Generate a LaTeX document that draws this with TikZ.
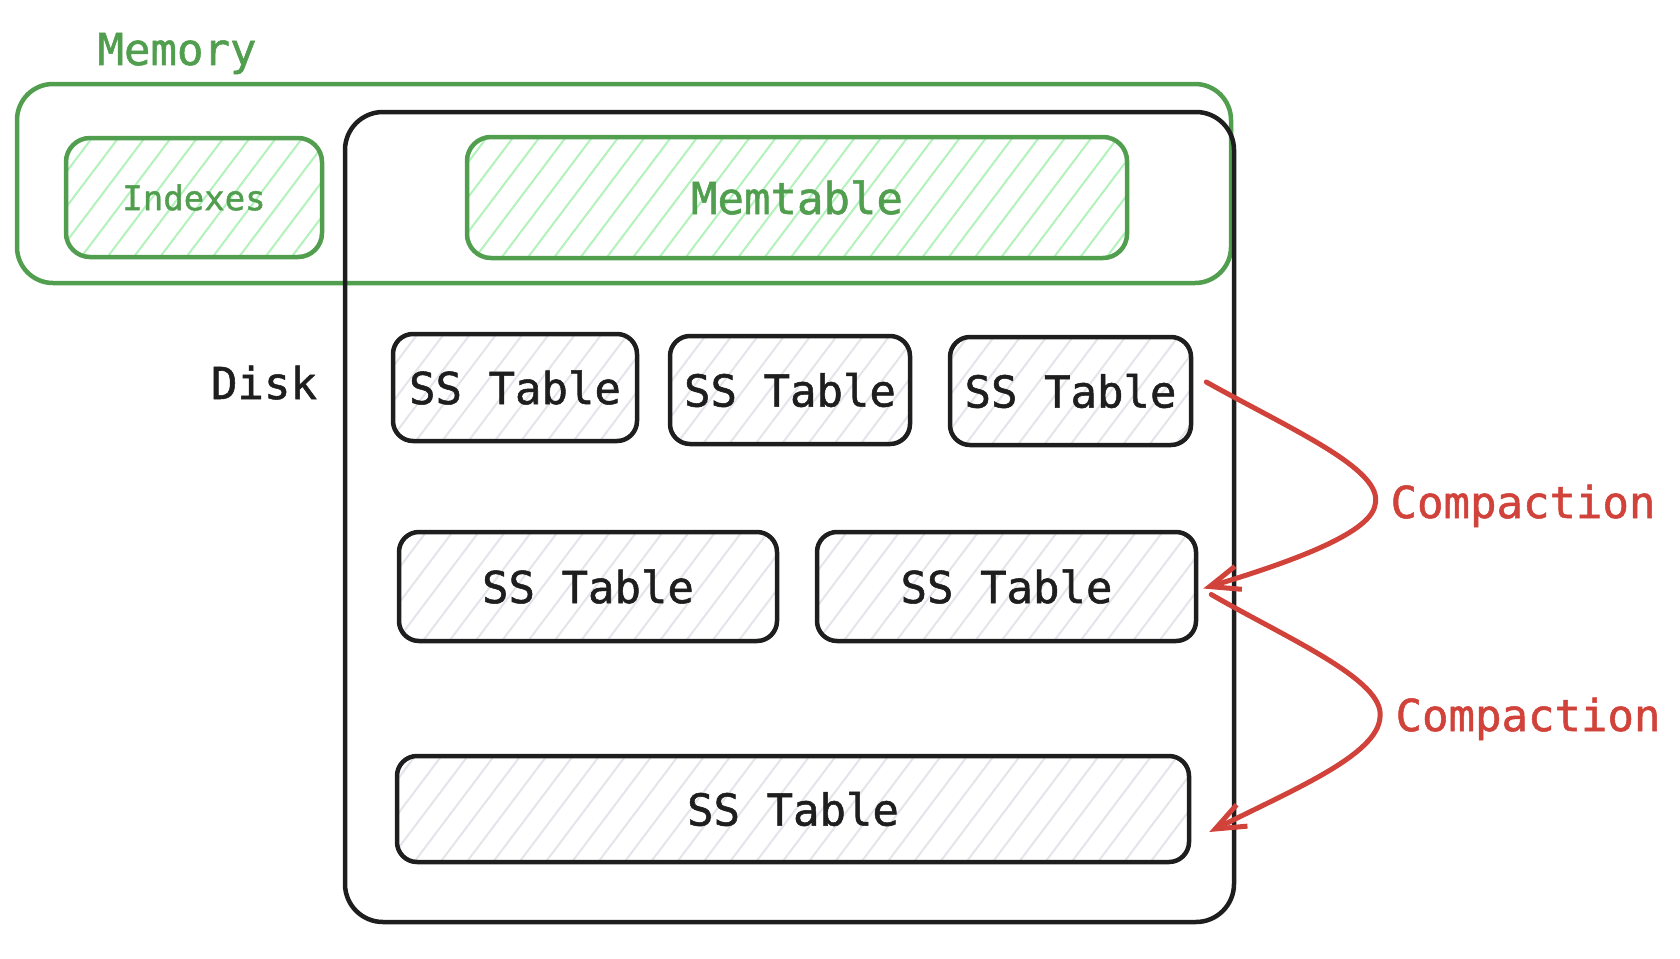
\documentclass[tikz,border=0pt]{standalone}
\usepackage{fontspec}
\newfontfamily\diagmono[FakeBold=1.2]{DejaVu Sans Mono}
\usetikzlibrary{arrows.meta,patterns.meta,calc}
\definecolor{memgreen}{RGB}{80,158,78}
\definecolor{hatchgreen}{RGB}{178,242,187}
\definecolor{diskblack}{RGB}{30,30,30}
\definecolor{hatchgray}{RGB}{226,229,233}
\definecolor{compred}{RGB}{208,66,58}
\newcommand{\bigmono}{\diagmono\fontsize{44}{50}\selectfont}
\newcommand{\smallmono}{\diagmono\fontsize{34}{40}\selectfont}
\tikzset{every picture/.style={line width=4.5pt}}
\tikzset{
  greenbox/.style={draw=memgreen, rounded corners=24pt, inner sep=0pt,
    pattern={Lines[angle=53,distance=21pt,line width=2pt]}, pattern color=hatchgreen,
    text=memgreen, font=\bigmono},
  sstable/.style={draw=diskblack, rounded corners=20pt, inner sep=0pt,
    pattern={Lines[angle=53,distance=21pt,line width=2pt]}, pattern color=hatchgray,
    text=diskblack, font=\bigmono},
  compaction/.style={draw=compred, line width=5pt, line cap=round,
    -{Straight Barb[length=30pt,width=24pt]}},
}

\begin{document}
\begin{tikzpicture}[x=1pt,y=1pt,yscale=-1]
\useasboundingbox (0,0) rectangle (1680,958);

%Shape: Rounded Rect [memory]
\node (memory) [draw=memgreen, rounded corners=36pt, minimum width=1214pt, minimum height=199pt] at (624,183.5) {};
% Text Node
\node (memlabel) [anchor=base, inner sep=0pt, text=memgreen, font=\bigmono] at (177,65) {Memory};
%Shape: Rounded Rect [indexes]
\node (indexes) [greenbox, font=\smallmono, minimum width=256pt, minimum height=119pt] at (194,197.5) {Indexes};

%Shape: Rounded Rect [disk]
\node (disk) [draw=diskblack, rounded corners=38pt, minimum width=889pt, minimum height=810pt] at (789.5,517) {};
% Text Node
\node (disklabel) [anchor=base, inner sep=0pt, text=diskblack, font=\bigmono] at (264,399) {Disk};
%Shape: Rounded Rect [memtable]
\node (memtable) [greenbox, minimum width=660pt, minimum height=121pt] at (797,197.5) {Memtable};

%Shape: SS tables, first level
\node (ss11) [sstable, minimum width=244pt, minimum height=107pt] at (515,387.5) {SS Table};
\node (ss12) [sstable, minimum width=240pt, minimum height=108pt] at (790,390) {SS Table};
\node (ss13) [sstable, minimum width=241pt, minimum height=108pt] at (1070.5,391) {SS Table};
%Shape: SS tables, second level
\node (ss21) [sstable, minimum width=378pt, minimum height=109pt] at (588,586.5) {SS Table};
\node (ss22) [sstable, minimum width=379pt, minimum height=109pt] at (1006.5,586.5) {SS Table};
%Shape: SS table, third level
\node (ss3) [sstable, minimum width=792pt, minimum height=106pt] at (793,809) {SS Table};

%Curved Lines [compaction 1]
\coordinate (bend1) at (1375,505);
\draw [compaction] ($(ss13.east)+(13,-9)$) .. controls +(86,48) and +(10,-35) .. (bend1)
  .. controls +(-5,30) and +(79,-24) .. ($(ss22.east)+(5,2)$);
% Text Node
\node (comp1) [anchor=base, inner sep=0pt, text=compred, font=\bigmono] at (1523,518) {Compaction};

%Curved Lines [compaction 2]
\coordinate (bend2) at (1380,717);
\draw [compaction] ($(ss22.east)+(13,8)$) .. controls +(76,44) and +(5,-37) .. (bend2)
  .. controls +(-2,38) and +(83,-42) .. ($(ss3.east)+(18,23)$);
% Text Node
\node (comp2) [anchor=base, inner sep=0pt, text=compred, font=\bigmono] at (1528,731) {Compaction};
\end{tikzpicture}
\end{document}
